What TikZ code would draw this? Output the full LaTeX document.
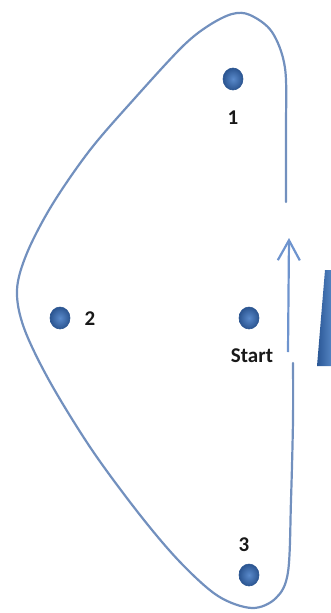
\documentclass[tikz,border=0pt]{standalone}
\usepackage{fontspec}
\setmainfont{Carlito}
\usetikzlibrary{arrows.meta,shapes.geometric}
\definecolor{loopc}{HTML}{7290BE}
\definecolor{arrc}{HTML}{6E94CE}
\definecolor{dotin}{HTML}{5A8ACB}
\definecolor{dotout}{HTML}{2B5591}
\definecolor{wedgeL}{HTML}{2A5795}
\definecolor{wedgeR}{HTML}{5585C4}
\tikzset{
  dotnode/.style={ellipse, minimum width=20pt, minimum height=22pt, inner sep=0pt,
    inner color=dotin, outer color=dotout, draw=dotout, line width=0.6pt},
  lbl/.style={font=\bfseries\fontsize{21}{23}\selectfont, text=black!90, inner sep=0pt},
  loopline/.style={draw=loopc, line width=2.2pt, line cap=round},
  flow/.style={draw=arrc, line width=2.2pt, -{Straight Barb[length=20pt,width=22pt,line width=2.2pt]}}
}
\begin{document}
\begin{tikzpicture}[x=1pt,y=-1pt]
\useasboundingbox (0,0) rectangle (330,613);
% loop curve
\draw[loopline] plot[smooth, tension=0.55] coordinates {
 (286,202) (286,130) (285,68) (272,32) (250,15) (232,14) (208,26) (182,47)
 (135,98) (90,150) (52,205) (27,253) (17,290) (24,328) (50,382) (92,450)
 (140,515) (180,562) (218,596) (252,608) (276,598) (288,572) (291,500)
 (293,420) (293,363)};
% arrow
\coordinate (abot) at (288,352);
\coordinate (atop) at (289,238);
\draw[flow] (abot) -- (atop);
% wedge at right edge
\shade[left color=wedgeL, right color=wedgeR] (325,270) -- (332,270) -- (332,366) -- (317,366) -- cycle;
% dots
\node[dotnode] (d1) at (233,79) {};
\node[dotnode] (d2) at (60,318) {};
\node[dotnode] (ds) at (249,318) {};
\node[dotnode] (d3) at (249,575) {};
% labels
\node[lbl] (l1) at (233,118) {1};
\node[lbl] (l2) at (90,319) {2};
\node[lbl] (ls) at (252,356) {Start};
\node[lbl] (l3) at (244,545) {3};
\end{tikzpicture}
\end{document}
